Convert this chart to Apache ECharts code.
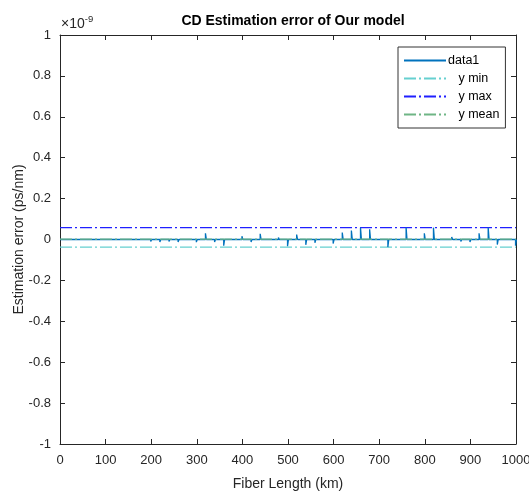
<!DOCTYPE html>
<html>
<head>
<meta charset="utf-8">
<script src="https://cdn.jsdelivr.net/npm/echarts@6/dist/echarts.min.js"></script>
<style>html,body{margin:0;padding:0;background:#fff}#c{width:529px;height:494px}</style>
</head>
<body>
<div id="c"></div>
<script>
// values in units of 1e-9 ps/nm
const spikeKm  = [40, 80, 120, 160, 180, 200, 220, 240, 260, 280, 300, 320, 340, 360, 380, 400, 420, 440, 460, 480, 500, 520, 540, 560, 580, 600, 620, 640, 660, 680, 700, 720, 740, 760, 780, 800, 820, 840, 860, 880, 900, 920, 940, 960, 980, 1000];
const spikeVal = [-0.003, 0.002, -0.003, -0.005, -0.005, -0.010, -0.012, -0.010, -0.012, -0.008, -0.013, 0.030, -0.012, -0.030, -0.004, 0.016, -0.012, 0.028, 0.004, 0.010, -0.033, 0.024, -0.026, -0.016, 0.005, -0.020, 0.034, 0.044, 0.058, 0.050, 0.003, -0.037, -0.005, 0.058, -0.005, 0.030, 0.058, -0.006, 0.012, -0.010, -0.012, 0.030, 0.058, -0.025, 0.003, -0.030];
const yMinVal = -0.037;
const yMaxVal = 0.058;
const yMeanVal = 0.002;
const xTicks = [0, 1000, 100];
const yTicks = [-1, 1, 0.2];

const dataLine = [[0, 0]];
spikeKm.forEach((x, i) => {
  const v = spikeVal[i];
  dataLine.push([x - 1, 0], [x - 1, v], [x + 1, v], [x + 1, 0]);
});
dataLine.push([1000, 0]);

const dash = [12, 3, 2, 3];
const axisCol = '#262626';
const font = 'Liberation Sans, Arial, sans-serif';

const chart = echarts.init(document.getElementById('c'));
const commonX = {
  type: 'value', min: xTicks[0], max: xTicks[1], interval: xTicks[2],
  axisTick: { show: true, inside: true, length: 5, lineStyle: { color: axisCol } },
  splitLine: { show: false }
};
const commonY = {
  type: 'value', min: yTicks[0], max: yTicks[1], interval: yTicks[2],
  axisLine: { show: true, onZero: false, lineStyle: { color: axisCol, width: 1 } },
  axisTick: { show: true, inside: true, length: 5, lineStyle: { color: axisCol } },
  splitLine: { show: false }
};
chart.setOption({
  animation: false,
  backgroundColor: '#fff',
  textStyle: { fontFamily: font },
  title: {
    text: 'CD Estimation error of Our model',
    left: 288, top: 9, textAlign: 'center',
    textStyle: { fontSize: 14, fontWeight: 'bold', color: '#000', fontFamily: font }
  },
  grid: { left: 60, right: 13, top: 35, bottom: 50, containLabel: false, outerBoundsMode: 'none' },
  xAxis: [
    Object.assign({}, commonX, {
      position: 'bottom',
      axisLine: { show: true, onZero: false, lineStyle: { color: axisCol } },
      axisLabel: { color: axisCol, fontSize: 13, margin: 10, fontFamily: font, formatter: v => String(v) },
      name: 'Fiber Length (km)', nameLocation: 'middle', nameGap: 33, nameMoveOverlap: false,
      nameTextStyle: { color: axisCol, fontSize: 14, fontFamily: font }
    }),
    Object.assign({}, commonX, {
      position: 'top',
      axisLine: { show: true, onZero: false, lineStyle: { color: axisCol } },
      axisLabel: { show: false }
    })
  ],
  yAxis: [
    Object.assign({}, commonY, {
      position: 'left',
      axisLabel: { color: axisCol, fontSize: 13, margin: 9, fontFamily: font,
        formatter: v => String(Math.round(v * 10) / 10) },
      name: 'Estimation error (ps/nm)', nameLocation: 'middle', nameGap: 34, nameMoveOverlap: false,
      nameTextStyle: { color: axisCol, fontSize: 14, fontFamily: font }
    }),
    Object.assign({}, commonY, { position: 'right', axisLabel: { show: false } })
  ],
  legend: {
    orient: 'vertical', left: 398, top: 47,
    backgroundColor: '#fff', borderColor: '#333', borderWidth: 1,
    padding: [7, 6, 7, 5], itemGap: 5, itemWidth: 42, itemHeight: 15,
    itemStyle: { opacity: 0 },
    textStyle: { color: '#000', fontSize: 12.5, fontFamily: font, padding: [0, 0, 0, -3] },
    data: [
      { name: 'data1' }, { name: '   y min' }, { name: '   y max' }, { name: '   y mean' }
    ]
  },
  graphic: [{
    type: 'text', left: 61, top: 14,
    style: {
      text: '{a|\u00d710}{b|-9}',
      rich: {
        a: { fontSize: 14, fill: axisCol, fontFamily: font, verticalAlign: 'bottom' },
        b: { fontSize: 9.5, fill: axisCol, fontFamily: font, verticalAlign: 'top', padding: [0, 0, 7, 0] }
      }
    }
  }],
  series: [
    { name: 'data1', type: 'line', data: dataLine, symbol: 'none', showSymbol: false,
      lineStyle: { color: '#0072BD', width: 1.3 }, itemStyle: { color: '#0072BD' }, z: 3 },
    { name: '   y min', type: 'line', data: [[0, yMinVal], [1000, yMinVal]], symbol: 'none',
      lineStyle: { color: '#66d0d0', width: 1.2, type: dash }, itemStyle: { color: '#66d0d0' }, z: 2 },
    { name: '   y max', type: 'line', data: [[0, yMaxVal], [1000, yMaxVal]], symbol: 'none',
      lineStyle: { color: '#2020ff', width: 1.2, type: dash }, itemStyle: { color: '#2020ff' }, z: 2 },
    { name: '   y mean', type: 'line', data: [[0, yMeanVal], [1000, yMeanVal]], symbol: 'none',
      lineStyle: { color: '#6fb585', width: 1.4, type: dash }, itemStyle: { color: '#6fb585' }, z: 4 }
  ]
});
</script>
</body>
</html>
